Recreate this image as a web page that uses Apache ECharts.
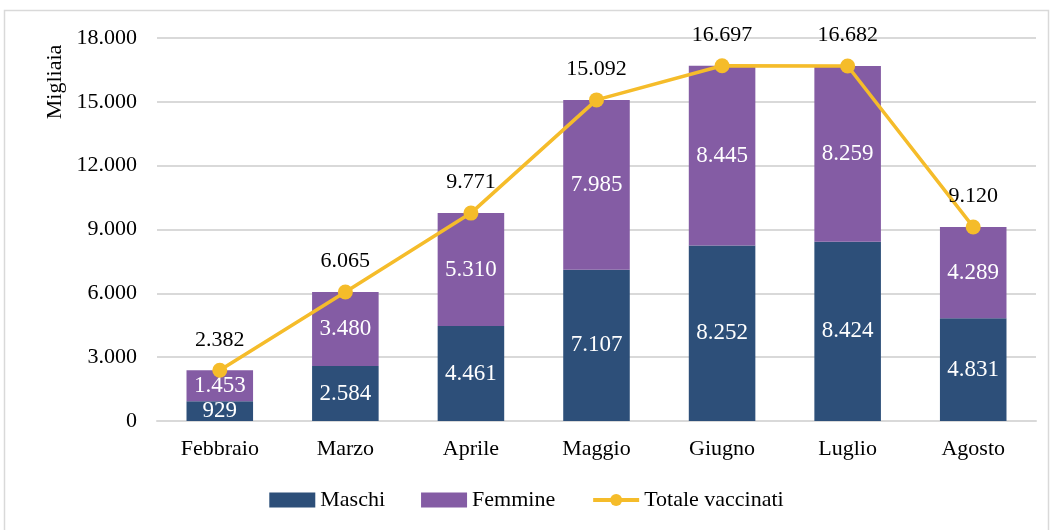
<!DOCTYPE html>
<html><head><meta charset="utf-8">
<script src="https://cdn.jsdelivr.net/npm/echarts@6/dist/echarts.min.js"></script>
<style>html,body{margin:0;padding:0;background:#fff}#c{width:1053px;height:530px}</style>
</head><body><div id="c"></div>
<script>
const categories = ['Febbraio','Marzo','Aprile','Maggio','Giugno','Luglio','Agosto'];
const maschi = [929, 2584, 4461, 7107, 8252, 8424, 4831];
const femmine = [1453, 3480, 5310, 7985, 8445, 8259, 4289];
const totale = [2382, 6065, 9771, 15092, 16697, 16682, 9120];
const yTicks = [0, 3000, 6000, 9000, 12000, 15000, 18000];

const FONT = '"Liberation Serif", "DejaVu Serif", serif';
const fmt = v => String(Math.round(v)).replace(/\B(?=(\d{3})+(?!\d))/g, '.');

const chart = echarts.init(document.getElementById('c'));
chart.setOption({
  animation: false,
  textStyle: { fontFamily: FONT },
  grid: { left: 157, right: 17, top: 38, bottom: 109 },
  graphic: [
    { type: 'rect', shape: { x: 4.5, y: 10.5, width: 1044, height: 540 }, style: { fill: 'none', stroke: '#d9d9d9', lineWidth: 1.5 }, silent: true },
    { type: 'text', x: 55, y: 82, rotation: Math.PI / 2, style: { text: 'Migliaia', font: '22px ' + FONT, fill: '#000', align: 'center', verticalAlign: 'middle' } }
  ],
  legend: {
    bottom: 14, left: 'center', itemGap: 36, itemWidth: 46, itemHeight: 15,
    textStyle: { fontFamily: FONT, fontSize: 22, color: '#000' },
    data: [
      { name: 'Maschi', icon: 'rect' },
      { name: 'Femmine', icon: 'rect' },
      { name: 'Totale vaccinati', lineStyle: { width: 4 } }
    ]
  },
  xAxis: {
    type: 'category', data: categories,
    axisLine: { lineStyle: { color: '#d9d9d9', width: 2 } },
    axisTick: { show: false },
    axisLabel: { fontFamily: FONT, fontSize: 22, color: '#000', margin: 17 }
  },
  yAxis: {
    type: 'value', min: yTicks[0], max: yTicks[yTicks.length - 1], interval: 3000,
    axisLine: { show: false }, axisTick: { show: false },
    splitLine: { lineStyle: { color: '#d9d9d9', width: 2 } },
    axisLabel: { fontFamily: FONT, fontSize: 22, color: '#000', margin: 20, formatter: fmt }
  },
  series: [
    {
      name: 'Maschi', type: 'bar', stack: 'tot', data: maschi, barWidth: '53%',
      itemStyle: { color: '#2d4f79' },
      label: { show: true, position: 'inside', color: '#fff', fontFamily: FONT, fontSize: 23, formatter: p => fmt(p.value) }
    },
    {
      name: 'Femmine', type: 'bar', stack: 'tot', data: femmine, barWidth: '53%',
      itemStyle: { color: '#845ca4' },
      label: { show: true, position: 'inside', color: '#fff', fontFamily: FONT, fontSize: 23, formatter: p => fmt(p.value) }
    },
    {
      name: 'Totale vaccinati', type: 'line', data: totale,
      symbol: 'circle', symbolSize: 15,
      lineStyle: { color: '#f5bc2a', width: 3.5 },
      itemStyle: { color: '#f5bc2a' },
      label: { show: true, position: 'top', distance: 12, color: '#000', fontFamily: FONT, fontSize: 22, formatter: p => fmt(p.value) }
    }
  ]
});
</script></body></html>
